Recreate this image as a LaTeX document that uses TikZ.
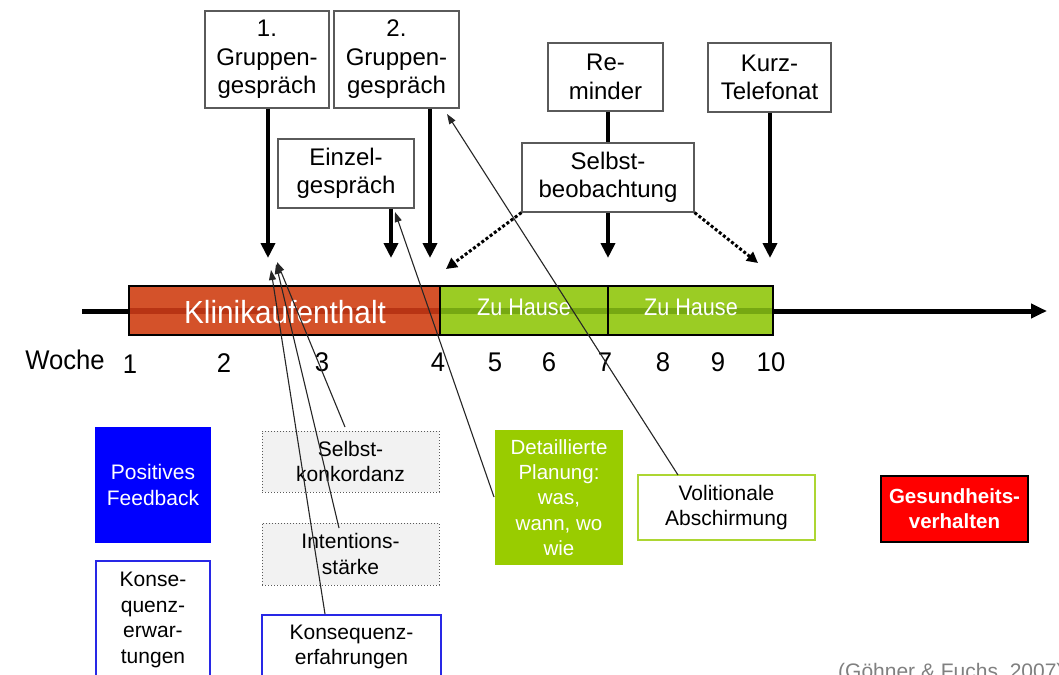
\documentclass[tikz,border=0pt]{standalone}
\usepackage{fontspec}
\setmainfont{Liberation Sans}
\usetikzlibrary{arrows.meta}
\definecolor{klinik}{RGB}{212,82,42}
\definecolor{klinikdk}{RGB}{184,52,20}
\definecolor{haus}{RGB}{155,204,36}
\definecolor{hausdk}{RGB}{118,168,18}
\definecolor{plan}{RGB}{153,204,0}
\definecolor{kblue}{RGB}{40,40,230}
\definecolor{boxgray}{RGB}{242,242,242}
\definecolor{edgegray}{RGB}{90,90,90}
\tikzset{
  topbox/.style={draw=edgegray, line width=1.2, fill=white, align=center, inner sep=0,
    font=\fontsize{24}{28.5}\selectfont},
  lowbox/.style={align=center, inner sep=0, font=\fontsize{21}{25.5}\selectfont},
  thickarr/.style={line width=4, -{Triangle[width=14,length=15]}},
  thickline/.style={line width=4},
  dotarr/.style={line width=3, dash pattern=on 3 off 2.2, -{Triangle[width=11,length=11]}},
  thinarr/.style={line width=1.1, black!85, -{Triangle[width=7,length=10]}},
  numlab/.style={inner sep=0, font=\fontsize{27}{30}\selectfont, xscale=0.95},
}
\begin{document}
\begin{tikzpicture}[x=1pt,y=-1pt]
\useasboundingbox (0,0) rectangle (1059,674);
\clip (0,0) rectangle (1059,674);
\fill[white] (0,0) rectangle (1059,674);

% top boxes
\node[topbox, minimum width=124, minimum height=97] (g1) at (267,59.5) {1.\\Gruppen-\\gespräch};
\node[topbox, minimum width=125, minimum height=97] (g2) at (396.5,59.5) {2.\\Gruppen-\\gespräch};
\node[topbox, minimum width=115, minimum height=68] (rem) at (605.5,77) {Re-\\minder};
\node[topbox, minimum width=123, minimum height=69] (kurz) at (769.5,77.5) {Kurz-\\Telefonat};
\node[topbox, minimum width=136, minimum height=69] (einz) at (346,173.5) {Einzel-\\gespräch};
\node[topbox, minimum width=172, minimum height=69] (selb) at (608,177.5) {Selbst-\\beobachtung};

% timeline
\coordinate (tlstart) at (82,311);
\coordinate (tlend) at (1047,311);
\draw[line width=5, -{Triangle[width=14,length=16]}] (tlstart) -- (tlend);
\fill[klinik] (129,286) rectangle (440,335);
\fill[haus] (440,286) rectangle (773,335);
\fill[klinikdk] (129,308) rectangle (440,314);
\fill[hausdk] (440,308) rectangle (773,314);
\draw[line width=1.6] (129,286) rectangle (440,335);
\draw[line width=1.6] (440,286) rectangle (608,335);
\draw[line width=1.6] (608,286) rectangle (773,335);
\node[white, inner sep=0, font=\fontsize{32}{34}\selectfont, xscale=0.93] (klin) at (285,312) {Klinikaufenthalt};
\node[white, inner sep=0, font=\fontsize{24}{26}\selectfont, xscale=0.9] (zh1) at (524,307) {Zu Hause};
\node[white, inner sep=0, font=\fontsize{24}{26}\selectfont, xscale=0.9] (zh2) at (691,307) {Zu Hause};

% week labels
\node[numlab] (woche) at (65,360) {Woche};
\node[numlab] (w1) at (130,364) {1};
\node[numlab] (w2) at (224,363) {2};
\node[numlab] (w3) at (322,362) {3};
\node[numlab] (w4) at (438,362) {4};
\node[numlab] (w5) at (495,362) {5};
\node[numlab] (w6) at (549,362) {6};
\node[numlab] (w7) at (605,362) {7};
\node[numlab] (w8) at (663,362) {8};
\node[numlab] (w9) at (718,362) {9};
\node[numlab] (w10) at (771,362) {10};

% arrow targets
\coordinate (t1) at (268,258);
\coordinate (t2) at (430,258);
\coordinate (te) at (391,258);
\coordinate (ts) at (608,258);
\coordinate (tk) at (770,258);
\coordinate (td1) at (446,269);
\coordinate (td2) at (758,263);

\draw[thickarr] (g1.south -| t1) -- (t1);
\draw[thickarr] (g2.south -| t2) -- (t2);
\draw[thickarr] (einz.south -| te) -- (te);
\draw[thickline] (selb.north |- rem.south) -- (selb.north);
\draw[thickarr] (selb.south) -- (ts);
\draw[thickarr] (kurz.south -| tk) -- (tk);
\draw[dotarr] (selb.south west) -- (td1);
\draw[dotarr] (selb.south east) -- (td2);

% lower boxes
\node[lowbox, fill=blue, text=white, minimum width=116, minimum height=116] (pf) at (153,485) {Positives\\Feedback};
\node[lowbox, draw=kblue, line width=2.2, fill=white, minimum width=114, minimum height=118] (ke) at (153,620) {Konse-\\quenz-\\erwar-\\tungen};
\node[lowbox, draw=edgegray, dotted, line width=1, fill=boxgray, minimum width=177, minimum height=61] (sk) at (350.5,461.5) {Selbst-\\konkordanz};
\node[lowbox, draw=edgegray, dotted, line width=1, fill=boxgray, minimum width=177, minimum height=62] (is) at (350.5,554) {Intentions-\\stärke};
\node[lowbox, draw=kblue, line width=2.2, fill=white, minimum width=179, minimum height=64] (kf) at (351.5,647) {Konsequenz-\\erfahrungen};
\node[lowbox, fill=plan, text=white, minimum width=128, minimum height=135, font=\fontsize{20.5}{25.3}\selectfont] (dp) at (559,497.5) {Detaillierte\\Planung:\\was,\\wann, wo\\wie};
\node[lowbox, draw=plan!80, line width=2, fill=white, minimum width=177, minimum height=65, font=\fontsize{21}{25}\selectfont] (va) at (726.5,507.5) {Volitionale\\Abschirmung};
\node[lowbox, draw=black, line width=2, fill=red, text=white, minimum width=147, minimum height=66, font=\bfseries\fontsize{20.5}{25}\selectfont] (gv) at (954.5,509) {Gesundheits-\\verhalten};

\node[anchor=base west, inner sep=0, text=gray, font=\fontsize{21}{24}\selectfont] (cite) at (838,678) {(Göhner \& Fuchs, 2007)};

% thin feedback arrows
\coordinate (a1) at (277,262);
\coordinate (a2) at (276,264);
\coordinate (a3) at (271,270);
\coordinate (a4) at (395,212);
\coordinate (a5) at (447,114);
\coordinate (s1) at (345,427);
\coordinate (s2) at (339,528);
\coordinate (s3) at (325,614);
\coordinate (s4) at (494,497);
\coordinate (s5) at (678,475);
\draw[thinarr] (s1) -- (a1);
\draw[thinarr] (s2) -- (a2);
\draw[thinarr] (s3) -- (a3);
\draw[thinarr] (s4) -- (a4);
\draw[thinarr] (s5) -- (a5);
\end{tikzpicture}
\end{document}
